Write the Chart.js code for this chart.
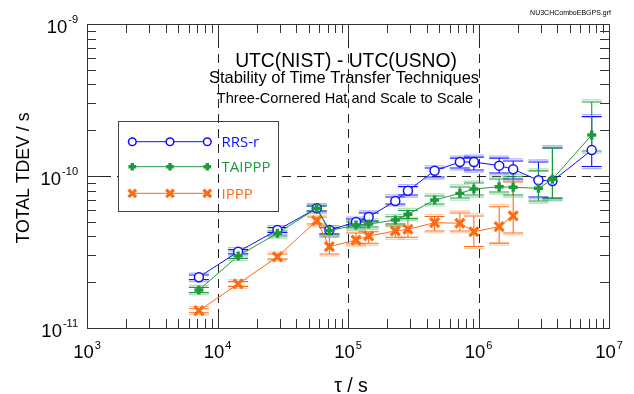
<!DOCTYPE html>
<html><head><meta charset="utf-8">
<script src="https://cdn.jsdelivr.net/npm/chart.js@4.4.1/dist/chart.umd.min.js"></script>
<style>html,body{margin:0;padding:0;background:#fff;overflow:hidden}#wrap{width:634px;height:394px;position:relative}</style>
</head><body><div id="wrap"><canvas id="c" width="634" height="394"></canvas></div>
<script>
// ---- data ----
const tau = [7200, 14400, 28800, 57600, 72000, 115200, 144000, 230400, 288000, 460800, 720000, 921600, 1440000, 1843200, 2880000, 3686400, 7372800];

const rrsR   = [2.16e-11, 3.18e-11, 4.41e-11, 6.13e-11, 4.41e-11, 4.98e-11, 5.37e-11, 6.85e-11, 8.0e-11, 1.083e-10, 1.236e-10, 1.236e-10, 1.17e-10, 1.107e-10, 9.37e-11, 9.27e-11, 1.48e-10];
const rrsRLo = [2.08e-11, 3.07e-11, 4.25e-11, 5.89e-11, 4.15e-11, 4.76e-11, 5.06e-11, 6.55e-11, 7.50e-11, 9.85e-11, 1.13e-10, 1.095e-10, 1.047e-10, 9.55e-11, 7.28e-11, 7.16e-11, 1.155e-10];
const rrsRHi = [2.23e-11, 3.28e-11, 4.58e-11, 6.35e-11, 4.57e-11, 5.21e-11, 5.71e-11, 7.28e-11, 8.51e-11, 1.13e-10, 1.31e-10, 1.33e-10, 1.31e-10, 1.256e-10, 1.236e-10, 1.53e-10, 2.46e-10];

const taippp   = [1.78e-11, 2.98e-11, 4.2e-11, 6.13e-11, 4.37e-11, 4.76e-11, 4.83e-11, 5.14e-11, 5.6e-11, 6.95e-11, 7.69e-11, 8.21e-11, 8.5e-11, 8.43e-11, 8.3e-11, 9.51e-11, 1.86e-10];
const taipppLo = [1.71e-11, 2.87e-11, 4.03e-11, 5.89e-11, 4.15e-11, 4.55e-11, 4.62e-11, 4.83e-11, 5.25e-11, 6.55e-11, 7.16e-11, 7.50e-11, 7.85e-11, 7.50e-11, 6.85e-11, 7.08e-11, 1.46e-10];
const taipppHi = [1.85e-11, 3.09e-11, 4.35e-11, 6.35e-11, 4.58e-11, 4.98e-11, 5.06e-11, 5.40e-11, 5.93e-11, 7.39e-11, 8.47e-11, 8.99e-11, 9.55e-11, 9.89e-11, 1.08e-10, 1.53e-10, 3.07e-10];

const ippp   = [1.30e-11, 1.95e-11, 2.94e-11, 5.08e-11, 3.43e-11, 3.79e-11, 4.03e-11, 4.35e-11, 4.46e-11, 4.93e-11, 4.89e-11, 4.3e-11, 4.64e-11, 5.46e-11];
const ipppLo = [1.26e-11, 1.88e-11, 2.84e-11, 4.83e-11, 3.07e-11, 3.57e-11, 3.61e-11, 3.95e-11, 3.95e-11, 4.35e-11, 4.35e-11, 3.44e-11, 3.62e-11, 4.22e-11];
const ipppHi = [1.34e-11, 2.02e-11, 3.07e-11, 5.37e-11, 3.97e-11, 4.22e-11, 4.30e-11, 4.69e-11, 5.21e-11, 5.41e-11, 5.71e-11, 5.46e-11, 6.28e-11, 9.14e-11];

const seriesLabels = ['RRS-r', 'TAIPPP', 'IPPP'];
const xTickExponents = [3, 4, 5, 6, 7];
const yTickExponents = [-11, -10, -9];
const xGridValues = [1e4, 1e5, 1e6];
const yGridValues = [1e-10];
const titleLines = ['UTC(NIST) - UTC(USNO)', 'Stability of Time Transfer Techniques', 'Three-Cornered Hat and Scale to Scale'];
const xAxisTitle = 'τ / s';
const yAxisTitle = 'TOTAL TDEV / s';
const fileTag = 'NU3CHComboEBGPS.grf';

// ---- styles ----
const FONT = '"Liberation Sans", Arial, Helvetica, sans-serif';
const colors = [
  {line: '#0f0fff', light: 'rgba(120,120,255,0.55)'},
  {line: '#1c9a3c', light: 'rgba(110,200,135,0.55)'},
  {line: '#ff6a14', light: 'rgba(255,170,110,0.6)'}
];
const pts = (vals) => vals.map((v, i) => ({x: tau[i], y: v}));
const errs = [[rrsRLo, rrsRHi], [taipppLo, taipppHi], [ipppLo, ipppHi]];

const datasets = [
  {label: seriesLabels[0], data: pts(rrsR), order: 1, borderColor: colors[0].line, borderWidth: 1,
   pointStyle: 'circle', pointRadius: 4.5, pointBorderWidth: 1.5, pointBackgroundColor: '#ffffff', pointBorderColor: colors[0].line},
  {label: seriesLabels[1], data: pts(taippp), order: 0, borderColor: colors[1].line, borderWidth: 1,
   pointStyle: 'cross', pointRadius: 4.5, pointBorderWidth: 3.4, pointBackgroundColor: colors[1].line, pointBorderColor: colors[1].line},
  {label: seriesLabels[2], data: pts(ippp), order: 2, borderColor: colors[2].line, borderWidth: 1,
   pointStyle: 'crossRot', pointRadius: 6.3, pointBorderWidth: 3.2, pointBackgroundColor: colors[2].line, pointBorderColor: colors[2].line}
];

function drawPow(ctx, exp, x, y, align) {
  const base = '10', sup = String(exp);
  ctx.font = '18.5px ' + FONT;
  const wb = ctx.measureText(base).width;
  ctx.font = '11px ' + FONT;
  const ws = ctx.measureText(sup).width;
  const tot = wb + ws + 1;
  let x0 = align === 'right' ? x - tot : x - tot / 2;
  ctx.textAlign = 'left';
  ctx.textBaseline = 'alphabetic';
  ctx.font = '18.5px ' + FONT;
  ctx.fillText(base, x0, y);
  ctx.font = '11px ' + FONT;
  ctx.fillText(sup, x0 + wb + 1, y - 9.5);
}

const decor = {
  id: 'decor',
  beforeDatasetsDraw(chart) {
    const {ctx, chartArea: a, scales: {x, y}} = chart;
    ctx.save();
    ctx.strokeStyle = '#222';
    ctx.lineWidth = 1;
    ctx.setLineDash([9, 6]);
    yGridValues.forEach(v => {
      const py = Math.round(y.getPixelForValue(v)) + 0.5;
      ctx.beginPath(); ctx.moveTo(a.left, py); ctx.lineTo(a.right, py); ctx.stroke();
    });
    // legend box (white) covers horizontal grid
    ctx.setLineDash([]);
    ctx.fillStyle = '#fff';
    ctx.fillRect(118.5, 121.5, 160, 90);
    ctx.strokeStyle = '#444';
    ctx.strokeRect(118.5, 121.5, 160, 90);
    ctx.strokeStyle = '#222';
    ctx.setLineDash([9, 6]);
    xGridValues.forEach(v => {
      const px = Math.round(x.getPixelForValue(v)) + 0.5;
      ctx.beginPath(); ctx.moveTo(px, a.top); ctx.lineTo(px, a.bottom); ctx.stroke();
    });
    ctx.setLineDash([]);
    // error bars
    const drawOrder = [2, 0, 1];
    drawOrder.forEach(di => {
      const ds = chart.data.datasets[di];
      const [lo, hi] = errs[di];
      ds.data.forEach((p, i) => {
        const px = x.getPixelForValue(p.x);
        const pl = y.getPixelForValue(lo[i]);
        const ph = y.getPixelForValue(hi[i]);
        const hw = 10;
        ctx.strokeStyle = colors[di].light;
        ctx.lineWidth = 1.3;
        ctx.beginPath();
        ctx.moveTo(px - hw, pl + 2); ctx.lineTo(px + hw, pl + 2);
        ctx.moveTo(px - hw, ph - 2); ctx.lineTo(px + hw, ph - 2);
        ctx.stroke();
        ctx.strokeStyle = colors[di].line;
        ctx.lineWidth = 1.1;
        ctx.beginPath();
        ctx.moveTo(px, pl); ctx.lineTo(px, ph);
        ctx.moveTo(px - hw, pl); ctx.lineTo(px + hw, pl);
        ctx.moveTo(px - hw, ph); ctx.lineTo(px + hw, ph);
        ctx.stroke();
      });
    });
    ctx.restore();
  },
  afterDraw(chart) {
    const {ctx, chartArea: a, scales: {x, y}} = chart;
    ctx.save();
    // frame
    ctx.strokeStyle = '#333';
    ctx.lineWidth = 1;
    ctx.strokeRect(a.left + 0.5, a.top + 0.5, a.right - a.left, a.bottom - a.top);
    // ticks
    ctx.beginPath();
    for (let e = xTickExponents[0]; e < xTickExponents[xTickExponents.length - 1]; e++) {
      for (let m = 1; m <= 9; m++) {
        const px = Math.round(x.getPixelForValue(m * Math.pow(10, e))) + 0.5;
        const L = m === 1 ? 15 : 9;
        ctx.moveTo(px, a.bottom); ctx.lineTo(px, a.bottom - L);
        ctx.moveTo(px, a.top); ctx.lineTo(px, a.top + L);
      }
    }
    for (let e = yTickExponents[0]; e < yTickExponents[yTickExponents.length - 1]; e++) {
      for (let m = 1; m <= 9; m++) {
        const py = Math.round(y.getPixelForValue(m * Math.pow(10, e))) + 0.5;
        const L = m === 1 ? 15 : 9;
        ctx.moveTo(a.left, py); ctx.lineTo(a.left + L, py);
        ctx.moveTo(a.right, py); ctx.lineTo(a.right - L, py);
      }
    }
    ctx.stroke();
    // tick labels
    ctx.fillStyle = '#000';
    xTickExponents.forEach(e => {
      drawPow(ctx, e, x.getPixelForValue(Math.pow(10, e)), 358, 'center');
    });
    yTickExponents.forEach(e => {
      drawPow(ctx, e, 78, y.getPixelForValue(Math.pow(10, e)) + 8.5, 'right');
    });
    // titles
    ctx.textAlign = 'center';
    ctx.textBaseline = 'alphabetic';
    ctx.font = '19.3px ' + FONT;
    ctx.fillText(titleLines[0], 346, 66.5);
    ctx.font = '16.5px ' + FONT;
    ctx.fillText(titleLines[1], 344, 83.3);
    ctx.font = '14.6px ' + FONT;
    ctx.fillText(titleLines[2], 345, 103.3);
    // axis titles
    ctx.font = '19.5px ' + FONT;
    ctx.fillText(xAxisTitle, 351, 392);
    ctx.save();
    ctx.translate(28.5, 178);
    ctx.rotate(-Math.PI / 2);
    ctx.font = '17.7px ' + FONT;
    ctx.fillText(yAxisTitle, 0, 0);
    ctx.restore();
    // file tag
    ctx.font = '7px ' + FONT;
    ctx.textAlign = 'right';
    ctx.fillText(fileTag, 611, 15);
    // legend contents
    const rows = [141.7, 166.7, 193.3];
    const mx = [132.3, 170, 207.3];
    chart.data.datasets.forEach((ds, i) => {
      const yy = rows[i];
      ctx.strokeStyle = ds.borderColor;
      ctx.lineWidth = 1;
      ctx.beginPath(); ctx.moveTo(mx[0], yy); ctx.lineTo(mx[2], yy); ctx.stroke();
      mx.forEach(xx => {
        ctx.strokeStyle = ds.pointBorderColor;
        ctx.fillStyle = ds.pointBackgroundColor;
        ctx.lineWidth = ds.pointBorderWidth;
        Chart.helpers.drawPoint(ctx, {pointStyle: ds.pointStyle, radius: ds.pointRadius * 0.85, rotation: 0, borderWidth: ds.pointBorderWidth}, xx, yy);
      });
      ctx.fillStyle = ds.borderColor;
      ctx.font = '15px "Open Sans", "Noto Sans", sans-serif';
      ctx.textAlign = 'left';
      ctx.textBaseline = 'middle';
      ctx.fillText(ds.label, 221.5, yy + 1);
    });
    ctx.restore();
  }
};

new Chart(document.getElementById('c'), {
  type: 'scatter',
  data: {datasets: datasets.map(d => Object.assign({showLine: true, fill: false, tension: 0}, d))},
  options: {
    responsive: false,
    animation: false,
    devicePixelRatio: 1,
    layout: {padding: {left: 87, right: 25, top: 24, bottom: 66}},
    scales: {
      x: {type: 'logarithmic', min: 1e3, max: 1e7, display: false},
      y: {type: 'logarithmic', min: 1e-11, max: 1e-9, display: false}
    },
    plugins: {legend: {display: false}, tooltip: {enabled: false}}
  },
  plugins: [decor]
});
</script>
</body></html>
